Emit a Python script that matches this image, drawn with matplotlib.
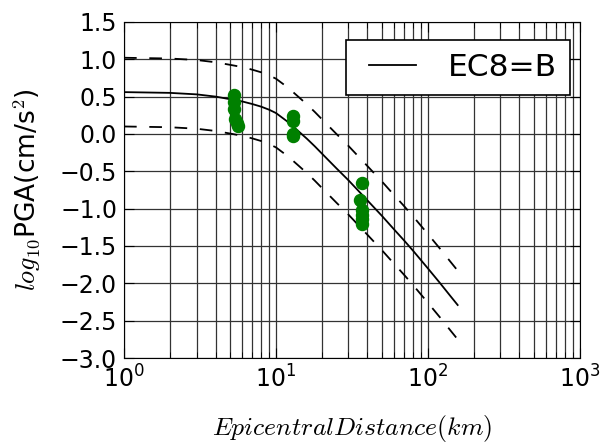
import matplotlib
matplotlib.use("Agg")
import matplotlib.pyplot as plt

# EC8=B attenuation curve
dist_km = [1, 2, 3, 4, 5, 6, 7, 8, 9, 10, 12, 14, 16, 18, 20, 25, 30,
           40, 50, 60, 70, 80, 100, 120, 140, 157]
log_pga = [0.56, 0.55, 0.53, 0.50, 0.465, 0.435, 0.40, 0.365, 0.325, 0.28,
           0.16, 0.04, -0.065, -0.165, -0.26, -0.46, -0.62, -0.89, -1.10,
           -1.28, -1.43, -1.565, -1.80, -1.995, -2.165, -2.29]
sigma = 0.46

# recorded stations
obs_km = [5.3, 5.3, 5.3, 5.4, 5.5, 5.6,
          13.0, 13.0, 13.0, 13.0,
          36.6, 35.7, 37.0, 37.0, 37.0, 37.0]
obs_pga = [0.52, 0.43, 0.33, 0.20, 0.14, 0.10,
           0.24, 0.17, 0.0, -0.03,
           -0.66, -0.89, -1.02, -1.08, -1.14, -1.20]

upper = [v + sigma for v in log_pga]
lower = [v - sigma for v in log_pga]

fig = plt.figure(figsize=(6.11, 4.47), dpi=100)
ax = fig.add_axes([0.203, 0.199, 0.746, 0.752])

ax.plot(dist_km, log_pga, color='k', lw=1.3, label='EC8=B')
ax.plot(dist_km, upper, color='k', lw=1.3, ls='--', dashes=(7, 7))
ax.plot(dist_km, lower, color='k', lw=1.3, ls='--', dashes=(7, 7))
ax.scatter(obs_km, obs_pga, s=75, color='green', edgecolors='green', zorder=3)

ax.set_xscale('log')
ax.set_xlim(1, 1000)
ax.set_ylim(-3.0, 1.5)
ax.set_yticks([-3.0, -2.5, -2.0, -1.5, -1.0, -0.5, 0.0, 0.5, 1.0, 1.5])
ax.grid(True, which='both', axis='x', color='0.2', lw=0.9, ls='-')
ax.grid(True, which='major', axis='y', color='0.2', lw=0.9, ls='-')
ax.set_axisbelow(True)
ax.tick_params(which='both', direction='in', top=True, right=True, labelsize=17)
ax.tick_params(which='major', length=7, pad=5)
ax.tick_params(which='minor', length=4)

ax.set_xlabel(r'$Epicentral Distance (km)$', fontsize=18.5, math_fontfamily='cm', labelpad=15)
ax.set_ylabel(r'$log_{10}$PGA(cm/s$^2$)', fontsize=19, math_fontfamily='cm', labelpad=12)

leg = ax.legend(loc='upper right', bbox_to_anchor=(0.978, 0.946), borderaxespad=0,
                fontsize=22.5, numpoints=2, fancybox=False, framealpha=1,
                edgecolor='k', handlelength=2.1, handletextpad=0.72, borderpad=0.42)
leg.get_frame().set_linewidth(1.2)

fig.savefig("out.png", dpi=100)
